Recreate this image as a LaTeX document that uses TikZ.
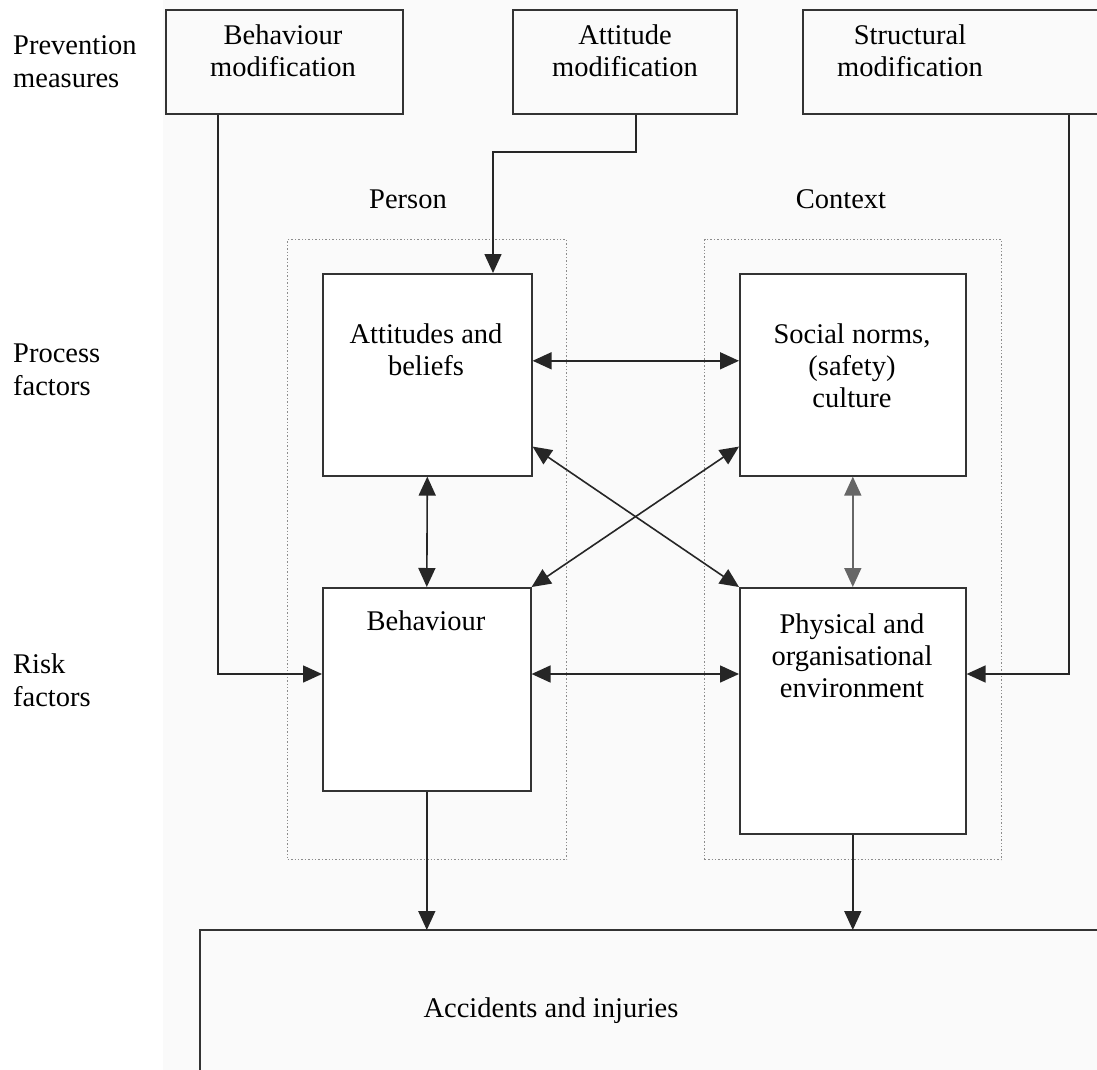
\documentclass[tikz,border=0pt]{standalone}
\usepackage{fontspec}
\setmainfont{Liberation Serif}
\usetikzlibrary{arrows.meta}
\begin{document}
\begin{tikzpicture}[x=1pt,y=-1pt,
  every node/.style={font=\fontsize{28.5}{32}\selectfont, inner sep=0pt},
  box/.style={draw=black!80, line width=1.6pt, anchor=north west},
  zone/.style={draw=black!45, line width=1.4pt, dotted, anchor=north west},
  txt/.style={align=center, anchor=base},
  side/.style={align=left, anchor=base west, font=\fontsize{28.5}{33}\selectfont},
  link/.style={draw=black!85, line width=1.6pt},
  tip/.style={-{Triangle[length=19pt,width=17pt]}},
  both/.style={{Triangle[length=19pt,width=17pt]}-{Triangle[length=19pt,width=17pt]}},
]
\useasboundingbox (0,0) rectangle (1097,1070);
\fill[black!2] (163,0) rectangle (1097,1070);

% row labels (anchored at the baseline of their last line)
\node[side] (lprev) at (13,88) {Prevention\\measures};
\node[side] (lproc) at (13,395) {Process\\factors};
\node[side] (lrisk) at (13,706) {Risk\\factors};

% prevention measures
\node[box, minimum width=237pt, minimum height=104pt] (bm) at (165,9) {};
\node[box, minimum width=224pt, minimum height=104pt] (am) at (512,9) {};
\node[box, minimum width=400pt, minimum height=104pt] (sm) at (802,9) {};
\node[txt] (tbm) at (283,77) {Behaviour\\modification};
\node[txt] (tam) at (625,77) {Attitude\\modification};
\node[txt] (tsm) at (910,77) {Structural\\modification};

% person / context zones
\node[zone, minimum width=279pt, minimum height=620pt] (zp) at (287,239) {};
\node[zone, minimum width=297pt, minimum height=620pt] (zc) at (704,239) {};
\node[txt] (lp) at (408,208) {Person};
\node[txt] (lc) at (841,208) {Context};

% factor boxes
\node[box, fill=white, minimum width=209pt, minimum height=202pt] (ab) at (322,273) {};
\node[box, fill=white, minimum width=226pt, minimum height=202pt] (sn) at (739,273) {};
\node[box, fill=white, minimum width=208pt, minimum height=203pt] (bh) at (322,587) {};
\node[box, fill=white, minimum width=226pt, minimum height=246pt] (pe) at (739,587) {};
\node[txt] (tab) at (426,375) {Attitudes and\\beliefs};
\node[txt] (tsn) at (852,407) {Social norms,\\(safety)\\culture};
\node[txt] (tbh) at (426,630) {Behaviour};
\node[txt] (tpe) at (852,697) {Physical and\\organisational\\environment};

% outcome
\coordinate (acr) at (1097,930);
\coordinate (acb) at (200,1070);
\draw[box] (acr) -| (acb);
\node[txt] (tac) at (551,1017) {Accidents and injuries};

% prevention links
\coordinate (k1) at (493,152);
\draw[link,tip] ([xshift=53pt]bm.south west) |- ([yshift=-87pt]bh.north west);
\draw[link,tip] ([xshift=124pt]am.south west) |- (k1) -- (k1 |- ab.north);
\draw[link,tip] ([xshift=267pt]sm.south west) |- ([yshift=-87pt]pe.north east);

% mutual influences
\draw[link,both] ([yshift=14pt]ab.east) -- ([yshift=14pt]ab.east -| sn.west);
\draw[link,both] ([yshift=-87pt]bh.north east) -- ([yshift=-87pt]pe.north west);
\draw[link,both] (ab.south) -- (bh.north);
\draw[link,both,draw=black!60] (sn.south) -- (pe.north);
\draw[link,both] ([yshift=30pt]ab.south east) -- (pe.north west);
\draw[link,both] ([yshift=30pt]sn.south west) -- (bh.north east);

% outcomes
\draw[link,tip] (bh.south) -- (bh.south |- acr);
\draw[link,tip] (pe.south) -- (pe.south |- acr);
\end{tikzpicture}
\end{document}
